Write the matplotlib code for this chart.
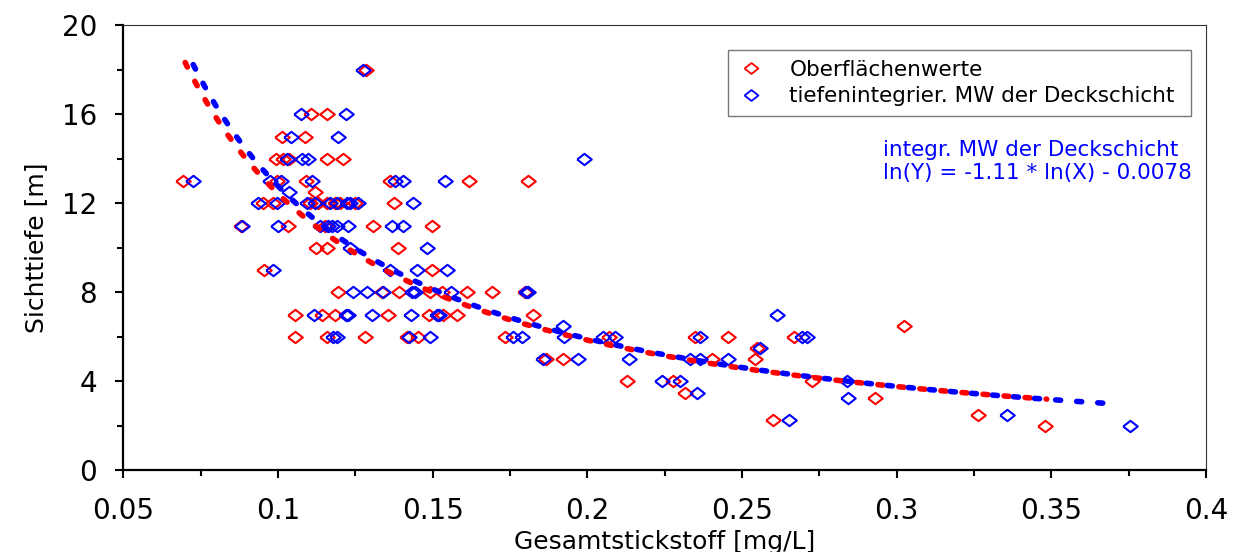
import numpy as np
import matplotlib.pyplot as plt
from matplotlib.lines import Line2D

plt.rcParams['font.family'] = ['DejaVu Sans']

# Oberflaechenwerte (red): Gesamtstickstoff [mg/L] / Sichttiefe [m]
red_n = [0.1284,
         0.1107, 0.1158,
         0.1014, 0.1087,
         0.0994, 0.1017, 0.1037, 0.1159, 0.1211,
         0.0694, 0.0998, 0.1090, 0.1362, 0.1616, 0.1808,
         0.1120,
         0.0951, 0.0985, 0.1103, 0.1130, 0.1157, 0.1184, 0.1200, 0.1249, 0.1375,
         0.0880, 0.1033, 0.1152, 0.1306, 0.1499,
         0.1123, 0.1157, 0.1389,
         0.0955, 0.1497,
         0.1195, 0.1337, 0.1391, 0.1491, 0.1529, 0.1610, 0.1693, 0.1800,
         0.1055, 0.1141, 0.1184, 0.1357, 0.1488, 0.1534, 0.1578, 0.1825,
         0.3024,
         0.1055, 0.1157, 0.1281, 0.1416, 0.1453, 0.1735, 0.2070, 0.2347, 0.2455, 0.2669,
         0.2548,
         0.1868, 0.1922, 0.2402, 0.2542,
         0.2127, 0.2278, 0.2725,
         0.2316, 0.2931, 0.3264, 0.2599, 0.3479]
red_s = [18,
         16, 16,
         15, 15,
         14, 14, 14, 14, 14,
         13, 13, 13, 13, 13, 13,
         12.5,
         12, 12, 12, 12, 12, 12, 12, 12, 12,
         11, 11, 11, 11, 11,
         10, 10, 10,
         9, 9,
         8, 8, 8, 8, 8, 8, 8, 8,
         7, 7, 7, 7, 7, 7, 7, 7,
         6.5,
         6, 6, 6, 6, 6, 6, 6, 6, 6, 6,
         5.5,
         5, 5, 5, 5,
         4, 4, 4,
         3.5, 3.25, 2.5, 2.25, 2]

# tiefenintegrier. MW der Deckschicht (blue)
blue_n = [0.1276,
          0.1073, 0.1219,
          0.1041, 0.1195,
          0.1028, 0.1077, 0.1096, 0.1989,
          0.0726, 0.0975, 0.1010, 0.1109, 0.1378, 0.1405, 0.1541,
          0.1037,
          0.0936, 0.0996, 0.1093, 0.1120, 0.1168, 0.1190, 0.1222, 0.1233, 0.1260, 0.1437,
          0.0885, 0.1001, 0.1136, 0.1163, 0.1174, 0.1190, 0.1227, 0.1367, 0.1405,
          0.1233, 0.1481,
          0.0983, 0.1362, 0.1448, 0.1545,
          0.1243, 0.1287, 0.1338, 0.1432, 0.1442, 0.1558, 0.1802, 0.1807,
          0.1117, 0.1220, 0.1226, 0.1303, 0.1430, 0.1515, 0.1521, 0.2612,
          0.1920,
          0.1179, 0.1192, 0.1423, 0.1491, 0.1761, 0.1788, 0.1925, 0.2051, 0.2089, 0.2364, 0.2693, 0.2709,
          0.2558,
          0.1857, 0.1971, 0.2135, 0.2332, 0.2364, 0.2455,
          0.2240, 0.2299, 0.2838,
          0.2353, 0.2843, 0.3356, 0.2651, 0.3753]
blue_s = [18,
          16, 16,
          15, 15,
          14, 14, 14, 14,
          13, 13, 13, 13, 13, 13, 13,
          12.5,
          12, 12, 12, 12, 12, 12, 12, 12, 12, 12,
          11, 11, 11, 11, 11, 11, 11, 11, 11,
          10, 10,
          9, 9, 9, 9,
          8, 8, 8, 8, 8, 8, 8, 8,
          7, 7, 7, 7, 7, 7, 7, 7,
          6.5,
          6, 6, 6, 6, 6, 6, 6, 6, 6, 6, 6, 6,
          5.5,
          5, 5, 5, 5, 5, 5,
          4, 4, 4,
          3.5, 3.25, 2.5, 2.25, 2]

# log-log fits: ln(Y) = a * ln(X) + b, drawn over [x0, x1]
red_fit = (-1.087, 0.018, 0.070, 0.3485)
blue_fit = (-1.11, -0.0078, 0.0726, 0.371)

RED = '#ff0000'
BLUE = '#0000ff'
diamond = [(-1, 0), (0, 0.78), (1, 0), (0, -0.78), (-1, 0)]

fig = plt.figure(figsize=(12.41, 5.52), dpi=100)
ax = fig.add_axes([123.3 / 1241, 1 - 470.4 / 552, (1206 - 123.3) / 1241, (470.4 - 25.4) / 552])

ax.plot(red_n, red_s, ls='none', marker=diamond, ms=10.5, mfc='none', mec=RED, mew=1.5)
ax.plot(blue_n, blue_s, ls='none', marker=diamond, ms=10.5, mfc='none', mec=BLUE, mew=1.5)

for (a, b, x0, x1), col in [(red_fit, RED), (blue_fit, BLUE)]:
    xx = np.linspace(x0, x1, 400)
    ax.plot(xx, np.exp(a * np.log(xx) + b), color=col, lw=4.0,
            ls=(0, (0.9, 2.9)), dash_capstyle='round')

ax.set_xlim(0.05, 0.4)
ax.set_ylim(0, 20)
ax.set_xticks(np.arange(0.05, 0.401, 0.05))
ax.set_xticklabels(['0.05', '0.1', '0.15', '0.2', '0.25', '0.3', '0.35', '0.4'])
ax.set_xticks(np.arange(0.075, 0.4, 0.05), minor=True)
ax.set_yticks([0, 4, 8, 12, 16, 20])
ax.set_yticks([2, 6, 10, 14, 18], minor=True)
ax.tick_params(which='major', length=6, width=1.5, labelsize=20)
ax.tick_params(axis='x', which='major', pad=13)
ax.tick_params(axis='y', which='major', pad=13)
ax.tick_params(which='minor', length=4, width=1.5)
for side in ['left', 'bottom']:
    ax.spines[side].set_linewidth(1.6)
for side in ['top', 'right']:
    ax.spines[side].set_linewidth(0.8)
    ax.spines[side].set_color('#333333')

ax.set_xlabel('Gesamtstickstoff [mg/L]', fontsize=18, labelpad=4)
ax.set_ylabel('Sichttiefe [m]', fontsize=18, labelpad=10)

handles = [Line2D([], [], ls='none', marker=diamond, ms=10, mfc='none', mec=RED, mew=1.3),
           Line2D([], [], ls='none', marker=diamond, ms=10, mfc='none', mec=BLUE, mew=1.3)]
leg = fig.legend(handles, ['Oberflächenwerte', 'tiefenintegrier. MW der Deckschicht'],
                 loc='upper left', bbox_to_anchor=(728 / 1241, 1 - 50 / 552, (1191 - 728) / 1241, 0.0),
                 mode='expand', fontsize=15.5, frameon=True, fancybox=False,
                 edgecolor='#555555', handlelength=1.2, handletextpad=1.2,
                 borderpad=0.45, labelspacing=0.3, borderaxespad=0)
leg.get_frame().set_linewidth(1.0)

fig.text(883 / 1241, 1 - 161.5 / 552,
         'integr. MW der Deckschicht\nln(Y) = -1.11 * ln(X) - 0.0078',
         color=BLUE, fontsize=15.5, va='center', ha='left', linespacing=1.2)

fig.savefig('out.png', dpi=100)
